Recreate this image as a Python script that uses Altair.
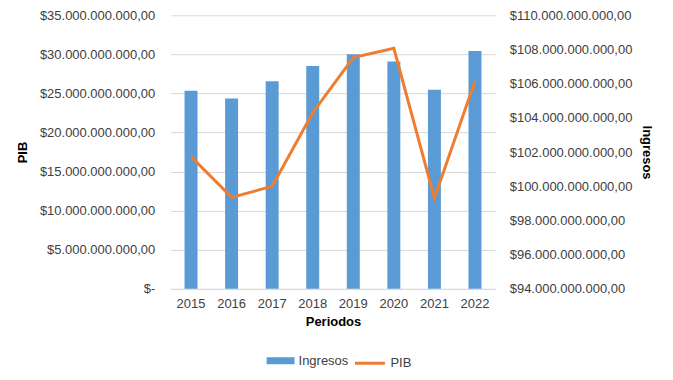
import altair as alt
import pandas as pd

periodos = ["2015", "2016", "2017", "2018", "2019", "2020", "2021", "2022"]
ingresos = [25.33e9, 24.36e9, 26.57e9, 28.52e9, 30.02e9, 29.08e9, 25.46e9, 30.44e9]
pib = [101.73e9, 99.35e9, 100.0e9, 104.3e9, 107.53e9, 108.07e9, 99.3e9, 106.15e9]
left_ticks = [0, 5e9, 10e9, 15e9, 20e9, 25e9, 30e9, 35e9]
right_ticks = [94e9, 96e9, 98e9, 100e9, 102e9, 104e9, 106e9, 108e9, 110e9]

df = pd.DataFrame({"Periodo": periodos, "Ingresos": ingresos, "PIB": pib,
                   "s1": ["Ingresos"] * 8, "s2": ["PIB"] * 8})

label_expr = ("datum.value == 0 ? '$-' : '$' + replace(format(datum.value, ','), "
              "regexp(',', 'g'), '.') + ',00'")

FONT = "Liberation Sans"
LBL = "#404040"

x = alt.X("Periodo:N", title="Periodos",
          scale=alt.Scale(paddingInner=0, paddingOuter=0),
          axis=alt.Axis(labelAngle=0, ticks=False, domainColor="#D9D9D9",
                        labelPadding=9, titlePadding=5, labelFontSize=13,
                        titleFontSize=13, labelColor=LBL))

base = alt.Chart(df)

bars = base.mark_bar(size=13).encode(
    x=x,
    y=alt.Y("Ingresos:Q", title="PIB",
            scale=alt.Scale(domain=[0, 35e9], nice=False, zero=True),
            axis=alt.Axis(orient="left", values=left_ticks, labelExpr=label_expr,
                          grid=True, gridColor="#D9D9D9", domain=False, ticks=False,
                          labelPadding=16, titlePadding=10, labelFontSize=13,
                          titleFontSize=13, labelColor=LBL)),
    color=alt.Color("s1:N", scale=alt.Scale(domain=["Ingresos"], range=["#5B9BD5"]),
                    legend=alt.Legend(title=None, orient="none", legendX=96, legendY=332,
                                      symbolType="M-1,-0.25H1V0.25H-1Z", symbolSize=784,
                                      symbolStrokeWidth=0, labelFontSize=13,
                                      labelColor=LBL, labelFont=FONT)),
)

line = base.mark_line(strokeWidth=3).encode(
    x=x,
    y=alt.Y("PIB:Q", title="Ingresos",
            scale=alt.Scale(domain=[94e9, 110e9], nice=False, zero=False),
            axis=alt.Axis(orient="right", values=right_ticks, labelExpr=label_expr,
                          grid=False, domain=False, ticks=False,
                          labelPadding=14, titlePadding=8, labelFontSize=13,
                          titleFontSize=13, labelColor=LBL)),
    stroke=alt.Stroke("s2:N", scale=alt.Scale(domain=["PIB"], range=["#ED7D31"]),
                      legend=alt.Legend(title=None, orient="none", legendX=183, legendY=332,
                                        symbolType="stroke", symbolSize=900,
                                        symbolStrokeWidth=3, labelFontSize=13,
                                        labelColor=LBL, labelFont=FONT)),
)

chart = alt.layer(bars, line).resolve_scale(y="independent").properties(
    width=325, height=274,
    autosize=alt.AutoSizeParams(type="none"),
    padding={"left": 163, "top": 7, "right": 170, "bottom": 85},
).configure_view(stroke=None).configure_axis(
    labelFont=FONT, titleFont=FONT, titleColor="#000000"
).configure_legend(labelFont=FONT)

chart.save("out.html", embed_options={"renderer": "svg", "actions": False})
